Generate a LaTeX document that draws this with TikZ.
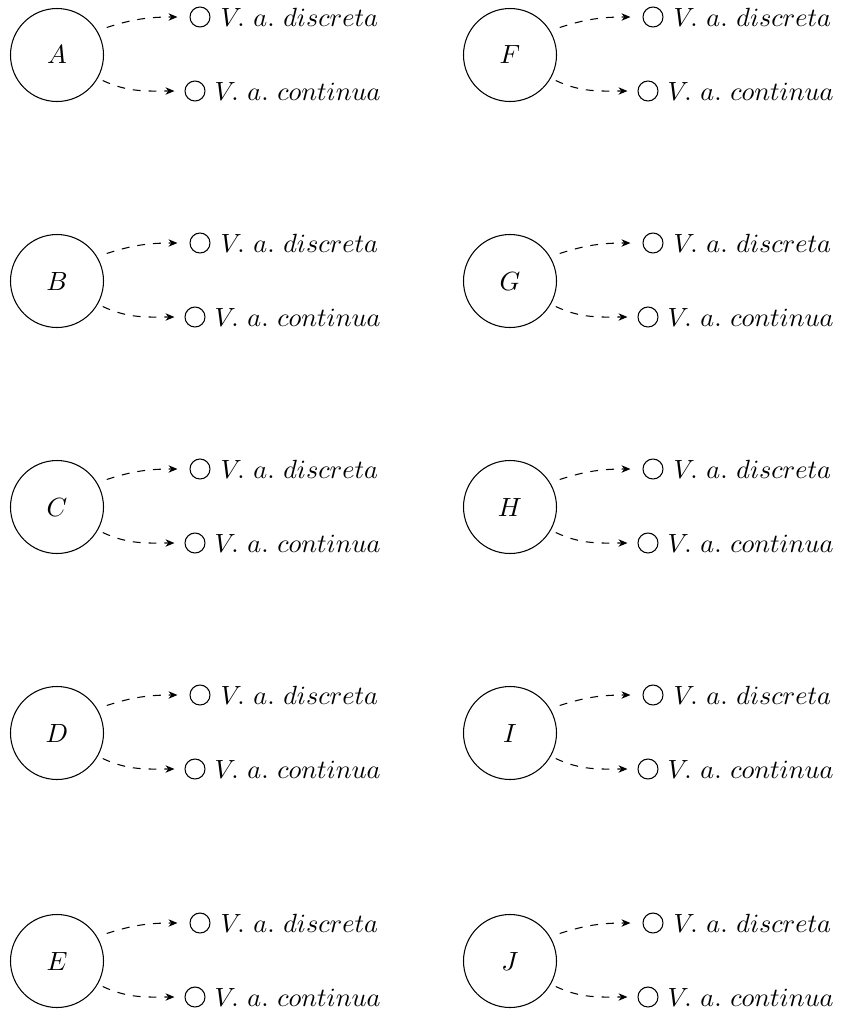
\documentclass[tikz,border=0pt]{standalone}
\usetikzlibrary{arrows.meta}
\begin{document}
\begin{tikzpicture}[x=0.38pt,y=-0.38pt,
  big/.style={circle,draw,minimum size=93*0.38pt,inner sep=0pt},
  outc/.style={anchor=west,inner sep=0pt},
  dot/.style={circle,draw,minimum size=20*0.38pt,inner sep=0pt},
  conn/.style={dashed,-{Stealth[length=3.4pt,width=2.8pt]}}]
\useasboundingbox (0,0) rectangle (841,1013);
\foreach \n/\cx/\cy in {A/57/55,B/57/281,C/57/507,D/57/733,E/57/961,
                        F/510/55,G/510/281,H/510/507,I/510/733,J/510/961}{
  \node[big] (\n) at (\cx,\cy) {$\n$};
  \node[dot] (\n d) at (\cx+143,\cy-38) {};
  \node[outc] (\n dt) at (\cx+163,\cy-38) {$V.\ a.\ discreta$};
  \node[dot] (\n c) at (\cx+138,\cy+36) {};
  \node[outc] (\n ct) at (\cx+157,\cy+36) {$V.\ a.\ continua$};
  \draw[conn] (\n.30) ++(9,-4) to[out=18,in=180] ([xshift=-12*0.38pt]\n d.west);
  \draw[conn] (\n.-30) ++(5,2) to[out=-25,in=180] ([xshift=-10*0.38pt]\n c.west);
}
\end{tikzpicture}
\end{document}
